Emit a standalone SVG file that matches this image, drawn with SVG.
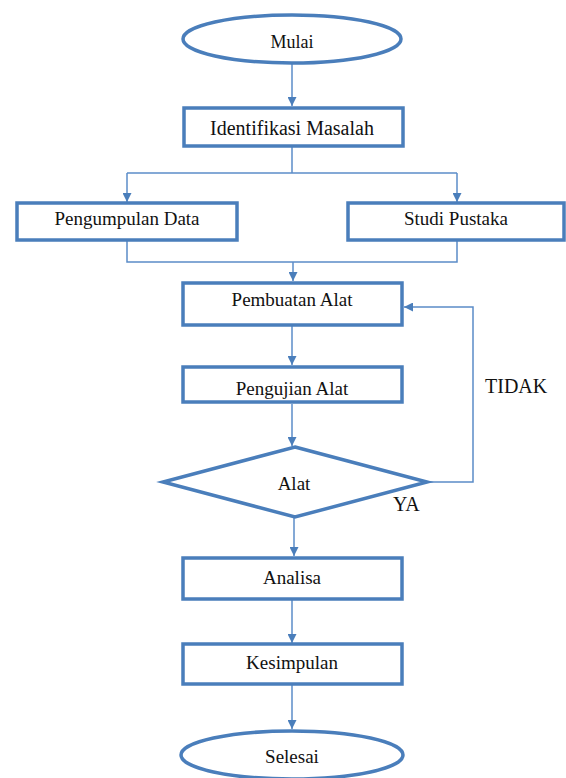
<svg xmlns="http://www.w3.org/2000/svg" width="566" height="778" viewBox="0 0 566 778">
<style>
.n{fill:#fff;stroke:#4a7ebb;stroke-width:3.5}
.c{fill:none;stroke:#5b8cc8;stroke-width:1.5}
.t{font-family:"Liberation Serif","Times New Roman",serif;font-size:19px;fill:#111;text-anchor:middle}
.l{font-family:"Liberation Serif","Times New Roman",serif;font-size:20px;fill:#111}
</style>
<defs>
<marker id="a" viewBox="0 0 10 10" refX="10" refY="5" markerWidth="9" markerHeight="9" markerUnits="userSpaceOnUse" orient="auto">
<path d="M0,0 L10,5 L0,10 z" fill="#4a7ebb"/>
</marker>
</defs>
<rect width="566" height="778" fill="#fff"/>
<g id="connectors">
<path class="c" d="M292,64 V106" marker-end="url(#a)"/>
<path class="c" d="M292,146 V173"/>
<path class="c" d="M127,173 H457"/>
<path class="c" d="M127,173 V202" marker-end="url(#a)"/>
<path class="c" d="M457,173 V202" marker-end="url(#a)"/>
<path class="c" d="M127,240 V262 H457 V240"/>
<path class="c" d="M293,262 V281" marker-end="url(#a)"/>
<path class="c" d="M292,326 V365" marker-end="url(#a)"/>
<path class="c" d="M292,404 V446" marker-end="url(#a)"/>
<path class="c" d="M428,482 H473 V307 H404" marker-end="url(#a)"/>
<path class="c" d="M294,518 V556" marker-end="url(#a)"/>
<path class="c" d="M292,600 V643" marker-end="url(#a)"/>
<path class="c" d="M292,685 V729" marker-end="url(#a)"/>
</g>
<g id="mulai"><ellipse class="n" cx="292" cy="39" rx="109" ry="24"/><text class="t" x="292" y="48" style="font-size:18px">Mulai</text></g>
<g id="identifikasi"><rect class="n" x="184" y="108" width="219" height="38"/><text class="t" x="292" y="135" style="font-size:20px">Identifikasi Masalah</text></g>
<g id="pengumpulan"><rect class="n" x="17" y="203" width="220" height="37"/><text class="t" x="127" y="225">Pengumpulan Data</text></g>
<g id="studi"><rect class="n" x="348" y="203" width="216" height="37"/><text class="t" x="456" y="225">Studi Pustaka</text></g>
<g id="pembuatan"><rect class="n" x="183" y="283" width="219" height="42"/><text class="t" x="292" y="306">Pembuatan Alat</text></g>
<g id="pengujian"><text class="t" x="292" y="395">Pengujian Alat</text><rect class="n" x="183" y="367" width="219" height="35" style="fill:none"/></g>
<g id="alat"><polygon class="n" points="295,447 427,482 295,517 163,482"/><text class="t" x="294" y="490">Alat</text></g>
<g id="analisa"><rect class="n" x="183" y="558" width="219" height="41"/><text class="t" x="292" y="584">Analisa</text></g>
<g id="kesimpulan"><rect class="n" x="183" y="644" width="219" height="40"/><text class="t" x="292" y="669">Kesimpulan</text></g>
<g id="selesai"><ellipse class="n" cx="292" cy="755" rx="111" ry="24"/><text class="t" x="292" y="763">Selesai</text></g>
<text class="l" x="485" y="393">TIDAK</text>
<text class="l" x="393" y="511">YA</text>
</svg>
